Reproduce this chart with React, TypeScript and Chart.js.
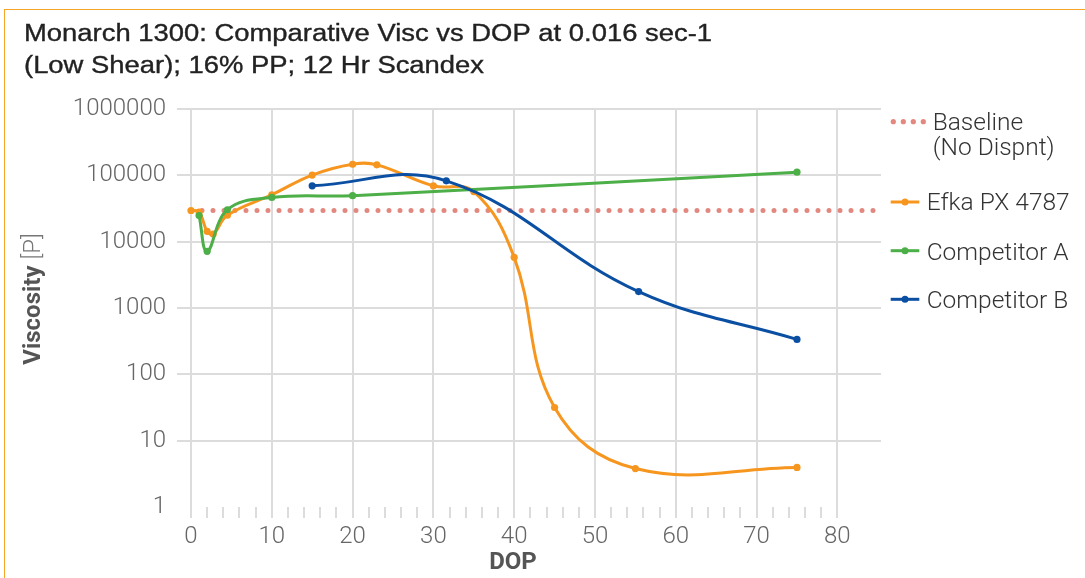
import React, { useEffect, useRef } from "react";
import { Chart, registerables } from "chart.js";

Chart.register(...registerables);

const titleLines = [
  "Monarch 1300: Comparative Visc vs DOP at 0.016 sec-1",
  "(Low Shear); 16% PP; 12 Hr Scandex",
];

const baselineX = [0, 85.4];
const baselineY = [29500, 29500];

const efkaX = [0, 1, 2, 2.75, 4.5, 10, 15, 20, 23, 30, 35, 40, 45, 55, 75];
const efkaY = [29500, 28000, 14300, 13000, 25000, 51000, 101000, 147000, 144000, 69500, 57000, 5800, 31.6, 3.8, 3.95];

const compAX = [1, 2, 4.5, 10, 20, 75];
const compAY = [24700, 7150, 30300, 46400, 49400, 111700];

const compBX = [15, 31.6, 55.4, 75];
const compBY = [69500, 82600, 1770, 336];

const xTickValues = [0, 2, 4, 6, 8, 10, 12, 14, 16, 18, 20, 22, 24, 26, 28, 30, 32, 34, 36, 38, 40, 42, 44, 46, 48, 50, 52, 54, 56, 58, 60, 62, 64, 66, 68, 70, 72, 74, 76, 78, 80];
const xLabelValues = [0, 10, 20, 30, 40, 50, 60, 70, 80];
const yTickValues = [1, 10, 100, 1000, 10000, 100000, 1000000];

const legendItems = [
  { lines: ["Baseline", "(No Dispnt)"], color: "#e3887e", dotted: true },
  { lines: ["Efka PX 4787"], color: "#f7961f", dotted: false },
  { lines: ["Competitor A"], color: "#4caf47", dotted: false },
  { lines: ["Competitor B"], color: "#0b4fa2", dotted: false },
];

const GRID = "#dcdcdc";
const FONT = "Roboto, 'Liberation Sans', sans-serif";
const TITLE_FONT = "'Liberation Sans', Arial, sans-serif";

function toPoints(xs: number[], ys: number[]) {
  return xs.map((x, i) => ({ x, y: ys[i] }));
}

const textPlugin = {
  id: "customText",
  afterDraw(chart: any) {
    const ctx = chart.ctx as any;
    ctx.save();
    // title
    ctx.fillStyle = "#222";
    ctx.strokeStyle = "#222";
    ctx.lineWidth = 0.35;
    ctx.textAlign = "left";
    ctx.textBaseline = "alphabetic";
    ctx.font = `23px ${TITLE_FONT}`;
    const w = ctx.measureText(titleLines[0]).width;
    const sx = 688 / w;
    titleLines.forEach((ln, i) => {
      ctx.save();
      ctx.translate(19, 31 + i * 32);
      ctx.scale(sx, 1);
      ctx.fillText(ln, 0, 0);
      ctx.strokeText(ln, 0, 0);
      ctx.restore();
    });

    // y axis title
    ctx.save();
    ctx.translate(35, 289);
    ctx.rotate(-Math.PI / 2);
    ctx.font = `bold 24px ${FONT}`;
    const p1 = "Viscosity ";
    const w1 = ctx.measureText(p1).width;
    ctx.font = `300 24px ${FONT}`;
    const p2 = "[P]";
    const w2 = ctx.measureText(p2).width;
    const start = -(w1 + w2) / 2;
    ctx.textAlign = "left";
    ctx.font = `bold 24px ${FONT}`;
    ctx.fillStyle = "#555";
    ctx.fillText(p1, start, 0);
    ctx.font = `300 24px ${FONT}`;
    ctx.fillStyle = "#777";
    ctx.fillText(p2, start + w1, 0);
    ctx.restore();

    // x axis title
    ctx.font = `bold 24px ${FONT}`;
    ctx.fillStyle = "#555";
    ctx.textAlign = "center";
    ctx.fillText("DOP", 508, 559);

    // legend
    const rows = [
      { sy: 111.7, ty: [120, 145], tx: 927.7 },
      { sy: 192, ty: [200], tx: 921.7 },
      { sy: 240.7, ty: [250], tx: 921.7 },
      { sy: 289.3, ty: [298.3], tx: 921.7 },
    ];
    legendItems.forEach((item, i) => {
      const r = rows[i];
      ctx.fillStyle = item.color;
      ctx.strokeStyle = item.color;
      if (item.dotted) {
        for (let k = 0; k < 4; k++) {
          ctx.beginPath();
          ctx.arc(888.3 + k * 10, r.sy, 2.6, 0, Math.PI * 2);
          ctx.fill();
        }
      } else {
        ctx.lineWidth = 3;
        ctx.beginPath();
        ctx.moveTo(885.7, r.sy);
        ctx.lineTo(914.3, r.sy);
        ctx.stroke();
        ctx.beginPath();
        ctx.arc(900, r.sy, 3.5, 0, Math.PI * 2);
        ctx.fill();
      }
      ctx.fillStyle = "#333";
      ctx.textAlign = "left";
      ctx.font = `300 24.5px ${FONT}`;
      item.lines.forEach((ln, j) => ctx.fillText(ln, r.tx, r.ty[j]));
    });
    ctx.restore();
  },
};

export default function App() {
  const ref = useRef<HTMLCanvasElement | null>(null);
  useEffect(() => {
    document.documentElement.style.overflow = "hidden";
    document.body.style.overflow = "hidden";
    if (!ref.current) return;
    const lineDs = (label: string, xs: number[], ys: number[], color: string, order: number) => ({
      label,
      data: toPoints(xs, ys),
      borderColor: color,
      backgroundColor: color,
      borderWidth: 3,
      pointRadius: 3.6,
      pointBorderWidth: 0,
      pointBackgroundColor: color,
      tension: 0.4,
      clip: false as any,
      order,
    });
    const chart = new Chart(ref.current, {
      type: "line",
      data: {
        datasets: [
          {
            label: "Baseline (No Dispnt)",
            data: toPoints(baselineX, baselineY),
            borderColor: "#e3887e",
            backgroundColor: "#e3887e",
            borderWidth: 5,
            borderDash: [0, 11],
            borderCapStyle: "round",
            pointRadius: 0,
            tension: 0,
            clip: false as any,
            order: 4,
          },
          lineDs("Efka PX 4787", efkaX, efkaY, "#f7961f", 3),
          lineDs("Competitor A", compAX, compAY, "#4caf47", 2),
          lineDs("Competitor B", compBX, compBY, "#0b4fa2", 1),
        ],
      },
      options: {
        responsive: false,
        animation: false,
        devicePixelRatio: 1,
        events: [],
        layout: { padding: { top: 99, right: 204, left: 0, bottom: 0 } },
        plugins: {
          legend: { display: false },
          title: { display: false },
          tooltip: { enabled: false },
        },
        scales: {
          x: {
            type: "linear",
            min: 0,
            max: 85.4,
            afterBuildTicks: (s: any) => {
              s.ticks = xTickValues.map((v) => ({ value: v }));
            },
            afterFit: (s: any) => {
              s.height = 71;
            },
            ticks: {
              autoSkip: false,
              maxRotation: 0,
              padding: 5,
              color: "#666",
              font: { family: FONT, size: 24, weight: "300" as any },
              callback: (v: any) => (xLabelValues.includes(Number(v)) ? String(v) : ""),
            },
            grid: {
              color: (c: any) => (c.tick && xLabelValues.includes(c.tick.value) ? GRID : "rgba(0,0,0,0)"),
              tickColor: GRID,
              tickLength: 11,
              lineWidth: 2,
            },
            border: { display: false },
          },
          y: {
            type: "logarithmic",
            min: 1,
            max: 1000000,
            afterBuildTicks: (s: any) => {
              s.ticks = yTickValues.map((v) => ({ value: v }));
            },
            afterFit: (s: any) => {
              s.width = 186;
            },
            ticks: {
              autoSkip: false,
              padding: 11,
              color: "#666",
              font: { family: FONT, size: 24, weight: "300" as any },
              callback: (v: any) => String(v),
            },
            grid: {
              color: (c: any) => (c.tick && c.tick.value === 1 ? "rgba(0,0,0,0)" : GRID),
              tickLength: 14,
              lineWidth: 2,
            },
            border: { display: false },
          },
        },
      },
      plugins: [textPlugin],
    });
    return () => chart.destroy();
  }, []);

  return (
    <div
      style={{
        position: "fixed",
        left: 4,
        top: 9,
        width: 1100,
        height: 600,
        border: "1px solid #f5a425",
        background: "#fff",
      }}
    >
      <canvas ref={ref} width={1080} height={568} style={{ display: "block", width: 1080, height: 568 }} />
    </div>
  );
}
